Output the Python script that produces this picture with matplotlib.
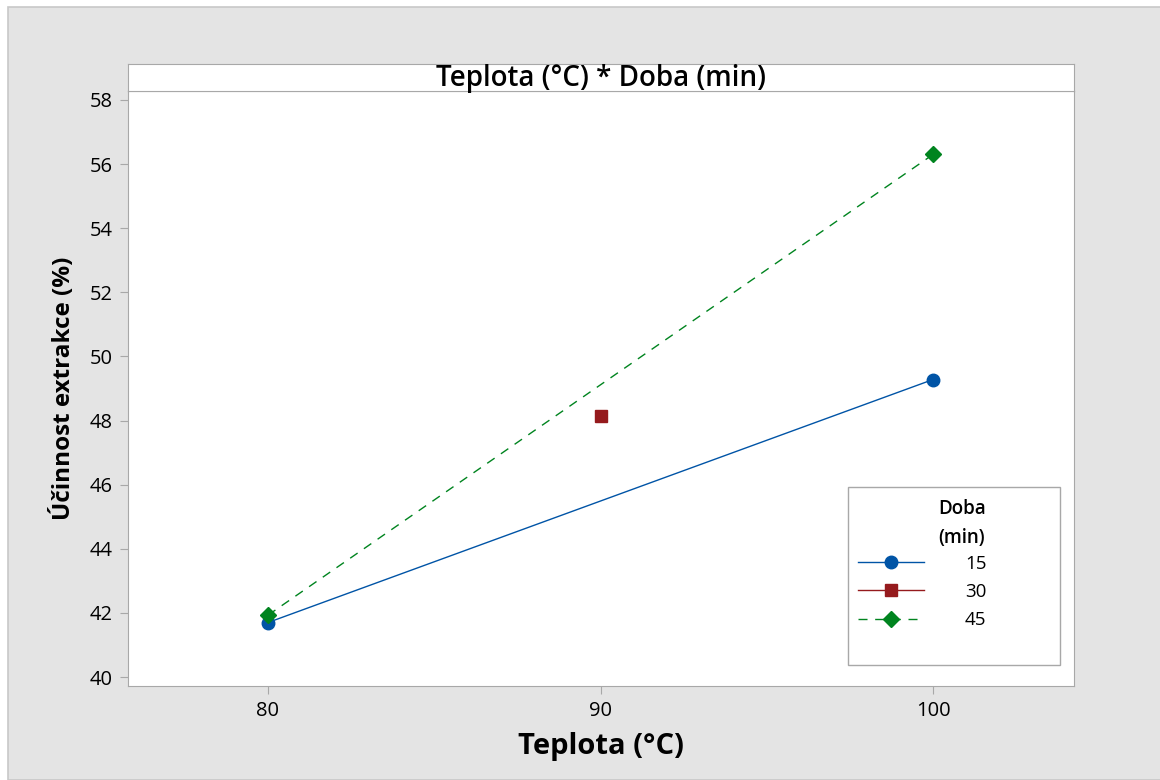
import matplotlib
matplotlib.use("Agg")
import matplotlib.pyplot as plt
from matplotlib.patches import Rectangle
from matplotlib.lines import Line2D

plt.rcParams['font.family'] = ['Open Sans', 'DejaVu Sans']

temps_15 = [80, 100]
vals_15 = [41.7, 49.28]
temps_30 = [90]
vals_30 = [48.14]
temps_45 = [80, 100]
vals_45 = [41.93, 56.3]
doba_labels = ['15', '30', '45']
yticks = [40, 42, 44, 46, 48, 50, 52, 54, 56, 58]
xticks = [80, 90, 100]

c_blue = '#0054A6'
c_red = '#951A1D'
c_green = '#00841F'
edge = '#a8a8a8'
dash = (0, (6.5, 5.5))

W, H = 1160, 780
fig = plt.figure(figsize=(W/100, H/100), dpi=100)
fig.patch.set_facecolor('white')
bg = Rectangle((8/W, 0), 1 - 8/W + 0.01, (H-7)/H, transform=fig.transFigure,
               facecolor='#e4e4e4', edgecolor='#c8c8c8', lw=1.2, zorder=-10)
fig.patches.append(bg)

AX0, AX1, AY0, AY1 = 128, 1074, 91, 686
l, r = AX0/W, AX1/W
b, t = (H-AY1)/H, (H-AY0)/H
ax = fig.add_axes([l, b, r-l, t-b], zorder=1)
ax.set_facecolor('white')
sax = fig.add_axes([l, t, r-l, 27/H], zorder=1)
sax.set_facecolor('white')
sax.set_xticks([]); sax.set_yticks([])
for s in sax.spines.values():
    s.set_color(edge)
sax.text(0.5, 0.45, 'Teplota (°C) * Doba (min)', ha='center', va='center',
         fontsize=20, fontweight='semibold', transform=sax.transAxes)

ax.plot(temps_15, vals_15, color=c_blue, lw=1, marker='o', ms=9, zorder=3)
ax.plot(temps_30, vals_30, color=c_red, lw=1, marker='s', ms=8.5, zorder=3)
ax.plot(temps_45, vals_45, color=c_green, lw=1, ls=dash, marker='D', ms=8.5, zorder=4)

ax.set_xlim(75.79, 104.24)
ax.set_ylim(39.72, 58.28)
ax.set_xticks(xticks)
ax.set_yticks(yticks)
ax.tick_params(direction='out', length=6, color=edge, labelsize=14.5, pad=5)
for s in ax.spines.values():
    s.set_color(edge)
ax.set_xlabel('Teplota (°C)', fontsize=21, fontweight='bold', labelpad=8)
ax.set_ylabel('Účinnost extrakce (%)', fontsize=17.5, fontweight='bold', labelpad=10)

def axc(px, py):
    return ((px - AX0) / (AX1 - AX0), (AY1 - py) / (AY1 - AY0))

# legend box
lx0, ly0 = 848, 487
lx1, ly1 = 1060, 665
x0, y0 = axc(lx0, ly1)
x1, y1 = axc(lx1, ly0)
ax.add_patch(Rectangle((x0, y0), x1 - x0, y1 - y0, transform=ax.transAxes,
                       facecolor='white', edgecolor=edge, lw=1, zorder=5))
handles = [
    Line2D([], [], color=c_blue, lw=1, marker='o', ms=9),
    Line2D([], [], color=c_red, lw=1, marker='s', ms=8.5),
    Line2D([], [], color=c_green, lw=1, ls=dash, marker='D', ms=8.5),
]
fs = 13.5
fpx = fs * 100 / 72
leg = ax.legend(handles, doba_labels, frameon=False,
                loc='center left', bbox_to_anchor=axc(858 - 0.4 * fpx, 592),
                handlelength=3.5, handletextpad=2.2, labelspacing=0.55, fontsize=fs,
                borderaxespad=0, borderpad=0.4)
for txt in leg.get_texts():
    txt.set_fontweight('medium')
leg.set_zorder(6)
tx, ty = axc(962, 523)
ax.text(tx, ty, 'Doba\n(min)', transform=ax.transAxes, ha='center', va='center',
        multialignment='center', fontsize=fs, fontweight='semibold', linespacing=1.6, zorder=7)

fig.savefig('out.png', dpi=100)
